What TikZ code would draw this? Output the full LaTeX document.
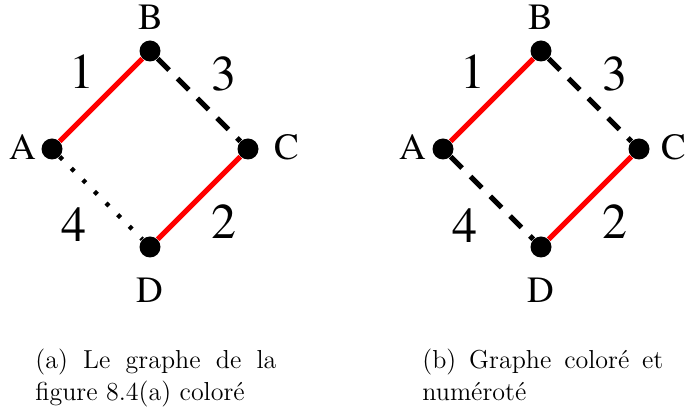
\documentclass[tikz,border=0pt]{standalone}
\usepackage{fontspec}
\newfontfamily\lblfont{texgyretermes-regular.otf}
\usepackage{tikz}

\begin{document}
\begin{tikzpicture}[
    x=0.5pt, y=-0.5pt,
    every node/.style={font=\lblfont\fontsize{18.5}{22}\selectfont},
    vertex/.style={circle, fill=black, inner sep=0pt, minimum size=10.5pt},
    weight/.style={font=\lblfont\fontsize{25}{30}\selectfont, text=black, inner sep=2pt},
    colored/.style={red, line width=2.5pt},
    uncolored/.style={black, line width=2.5pt, dash pattern=on 8pt off 6pt},
    dotline/.style={black, line width=2.2pt, dash pattern=on 2pt off 6.2pt},
    caption/.style={font=\fontsize{13}{15.6}\selectfont, text width=120.5pt,
        align=justify, inner sep=0pt, anchor=north west}
]
\useasboundingbox (0,0) rectangle (687,411);

% Graph (a)
\node[vertex] (A1) at (52, 149) {};
\node[vertex] (B1) at (150, 51) {};
\node[vertex] (C1) at (248, 149) {};
\node[vertex] (D1) at (150, 247) {};

\node (lA1) at (23, 147) {A};
\node (lB1) at (151, 17) {B};
\node (lC1) at (287, 147) {C};
\node (lD1) at (150, 290) {D};

% Graph (b)
\node[vertex] (A2) at (443, 149) {};
\node[vertex] (B2) at (541, 51) {};
\node[vertex] (C2) at (639, 149) {};
\node[vertex] (D2) at (541, 247) {};

\node (lA2) at (413, 147) {A};
\node (lB2) at (541, 17) {B};
\node (lC2) at (674, 147) {C};
\node (lD2) at (541, 290) {D};

% Edges of graph (a)
\draw[colored] (A1) -- (B1) node[midway, above left, weight, yshift=2.5pt] (w11) {1};
\draw[uncolored] (B1) -- (C1) node[midway, above right, weight, xshift=3pt, yshift=1pt] (w13) {3};
\draw[colored] (C1) -- (D1) node[midway, below right, weight, xshift=3pt] (w12) {2};
\draw[dotline] (A1) -- (D1) node[midway, below left, weight, xshift=-4pt, yshift=-2pt] (w14) {4};

% Edges of graph (b)
\draw[colored] (A2) -- (B2) node[midway, above left, weight, yshift=2.5pt] (w21) {1};
\draw[uncolored] (B2) -- (C2) node[midway, above right, weight, xshift=3pt, yshift=1pt] (w23) {3};
\draw[colored] (C2) -- (D2) node[midway, below right, weight, xshift=3pt] (w22) {2};
\draw[uncolored] (A2) -- (D2) node[midway, below left, weight, xshift=-4pt, yshift=-2pt] (w24) {4};

% Captions
\node[caption] (capA) at (35, 349) {(a) Le graphe de la\linebreak figure 8.4(a) coloré};
\node[caption] (capB) at (422, 349) {(b) Graphe coloré et\linebreak numéroté};

\end{tikzpicture}
\end{document}
